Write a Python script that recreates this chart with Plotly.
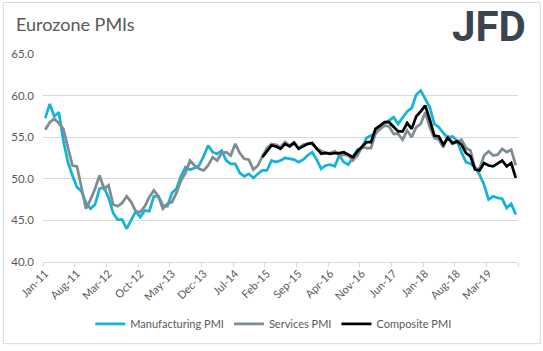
import pandas as pd
import plotly.graph_objects as go

months = pd.date_range("2011-01-01", periods=105, freq="MS").strftime("%b-%y").tolist()

manufacturing = [
    57.3, 59.0, 57.5, 58.0, 54.6, 52.0, 50.4, 49.0, 48.5, 47.1, 46.4, 46.9,
    48.8, 49.0, 47.7, 45.9, 45.1, 45.1, 44.0, 45.1, 46.1, 45.4, 46.2, 46.1,
    47.9, 47.9, 46.8, 46.7, 48.3, 48.8, 50.3, 51.4, 51.1, 51.3, 51.6, 52.7,
    54.0, 53.2, 53.0, 53.4, 52.2, 51.8, 51.8, 50.7, 50.3, 50.6, 50.1, 50.6,
    51.0, 51.0, 52.2, 52.0, 52.2, 52.5, 52.4, 52.3, 52.0, 52.3, 52.8, 53.2,
    52.3, 51.2, 51.6, 51.7, 51.5, 52.8, 52.0, 51.7, 52.6, 53.5, 53.7, 54.9,
    55.2, 55.4, 56.2, 56.7, 57.0, 57.4, 56.6, 57.4, 58.1, 58.5, 60.1, 60.6,
    59.6, 58.6, 56.6, 56.2, 55.5, 54.9, 55.1, 54.6, 53.2, 52.0, 51.8, 51.4,
    50.5, 49.3, 47.5, 47.9, 47.7, 47.6, 46.5, 47.0, 45.7,
]

services = [
    55.9, 56.8, 57.2, 56.7, 56.0, 53.7, 51.6, 51.5, 48.8, 46.4, 47.5, 48.8,
    50.4, 48.8, 49.2, 46.9, 46.7, 47.1, 47.9, 47.2, 46.1, 46.0, 46.7, 47.8,
    48.6, 47.9, 46.4, 47.0, 47.2, 48.3, 49.8, 50.7, 52.2, 51.6, 51.2, 51.0,
    51.6, 52.6, 52.2, 53.1, 53.2, 52.8, 54.2, 53.1, 52.4, 52.3, 51.1, 51.6,
    52.7, 53.7, 54.2, 54.1, 53.8, 54.4, 54.0, 54.4, 53.7, 54.1, 54.2, 54.2,
    53.6, 53.3, 53.1, 53.1, 53.3, 52.8, 52.9, 52.8, 52.2, 52.8, 53.8, 53.7,
    53.7, 55.5, 56.0, 56.4, 56.3, 55.4, 55.4, 54.7, 55.8, 55.0, 56.2, 56.6,
    58.0, 56.2, 54.9, 54.7, 53.8, 55.2, 54.2, 54.4, 54.7, 53.7, 53.4, 51.2,
    51.2, 52.8, 53.3, 52.8, 52.9, 53.6, 53.2, 53.5, 51.6,
]

composite = [None] * 48 + [
    52.6, 53.3, 54.0, 53.9, 53.6, 54.2, 53.9, 54.3, 53.6, 53.9, 54.2, 54.3,
    53.6, 53.0, 53.1, 53.0, 53.1, 53.1, 53.2, 52.9, 52.6, 53.3, 53.9, 54.4,
    54.4, 56.0, 56.4, 56.8, 56.8, 56.3, 55.7, 55.7, 56.7, 56.0, 57.5, 58.1,
    58.8, 57.1, 55.2, 55.1, 54.1, 54.9, 54.3, 54.5, 54.1, 53.1, 52.7, 51.1,
    51.0, 51.9, 51.6, 51.5, 51.8, 52.2, 51.5, 51.9, 50.1,
]

y_ticks = [40, 45, 50, 55, 60, 65]

FONT = "Lato"
TXT = "#595959"
GRID = "#d9d9d9"

fig = go.Figure()
fig.add_trace(go.Scatter(x=months, y=manufacturing, name="Manufacturing PMI", mode="lines",
                         line=dict(color="#14b3d8", width=2.75)))
fig.add_trace(go.Scatter(x=months, y=services, name="Services PMI", mode="lines",
                         line=dict(color="#7f8c94", width=2.75)))
fig.add_trace(go.Scatter(x=months, y=composite, name="Composite PMI", mode="lines",
                         line=dict(color="#000000", width=2.75), connectgaps=False))

# plot-area geometry in pixels (for paper-referenced decorations)
L, R, T, B = 42.7, 517.7, 54.0, 264.4
W, H = R - L, B - T
def px(x):
    return (x - L) / W
def py(y):
    return (B - y) / H

fig.update_layout(
    width=543, height=351,
    margin=dict(l=L, r=543 - R, t=T, b=351 - B, pad=0),
    paper_bgcolor="white", plot_bgcolor="white",
    font=dict(family=FONT, color=TXT, size=11),
    title=dict(text="Eurozone PMIs", x=16 / 543, xanchor="left", xref="container",
               y=1 - 25 / 351, yanchor="middle", yref="container",
               font=dict(family=FONT, size=18, color=TXT)),
    showlegend=True,
    legend=dict(orientation="h", x=px(273), xanchor="center", y=py(327), yanchor="middle",
                font=dict(family=FONT, size=11, color=TXT), bgcolor="rgba(0,0,0,0)",
                itemwidth=30, tracegroupgap=0),
    xaxis=dict(type="category", range=[-0.5, len(months) - 0.5],
               tickmode="linear", tick0=0, dtick=7, tickson="boundaries",
               ticks="outside", ticklen=4, tickcolor=GRID, tickwidth=1,
               showgrid=False, showline=True, linecolor=GRID, linewidth=1,
               tickangle=-45, tickfont=dict(family=FONT, size=11, color=TXT),
               zeroline=False),
    yaxis=dict(range=[40, 65], tickvals=y_ticks, ticktext=[f"{v:.1f}" for v in y_ticks],
               showgrid=True, gridcolor=GRID, gridwidth=1, zeroline=False,
               showline=False, ticks="", ticklabelstandoff=8,
               tickfont=dict(family=FONT, size=11.5, color=TXT)),
    shapes=[dict(type="rect", xref="paper", yref="paper",
                 x0=px(3), x1=px(540), y0=py(347), y1=py(2),
                 line=dict(color=GRID, width=1), fillcolor="rgba(0,0,0,0)", layer="below")],
    annotations=[dict(text="<b>JFD</b>", xref="paper", yref="paper", x=px(489), y=py(26),
                      xanchor="center", yanchor="middle", showarrow=False,
                      font=dict(family="Roboto", size=42, color="#3b4550"))],
)

fig.write_html("out.html")
